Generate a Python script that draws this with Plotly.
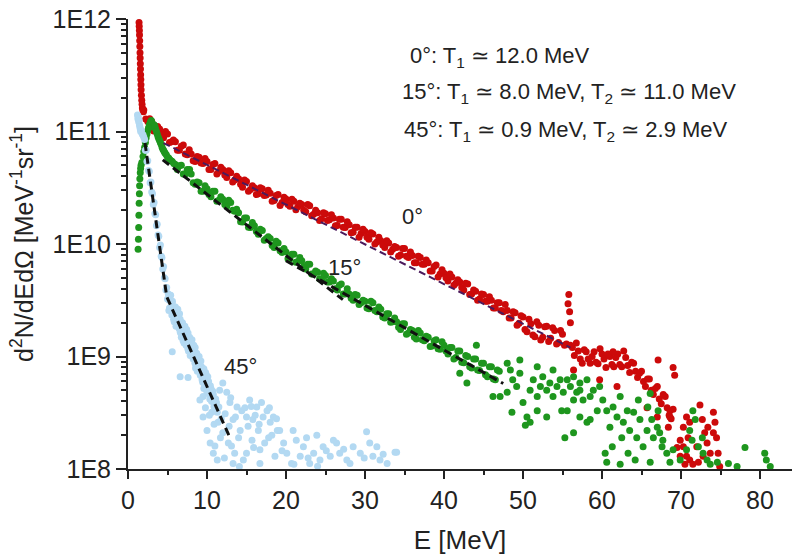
import plotly.graph_objects as go

# ---------------- data ----------------
# 0 degree spectrum (red)
red_E = [1.40, 1.42, 1.44, 1.46, 1.48, 1.50, 1.52, 1.54, 1.56, 1.58, 1.60, 1.62, 1.64, 1.66, 1.70, 1.74, 1.78, 1.82, 1.88, 1.95,
         2.0, 2.5, 3.0, 3.5, 4.0, 4.5, 5.0, 5.5, 6.0, 6.5, 7.0, 7.5, 8.0, 8.5, 9.0, 9.5, 10.0, 10.5, 11.0, 11.5,
         12.0, 12.5, 13.0, 13.5, 14.0, 14.5, 15.0, 15.5, 16.0, 16.5, 17.0, 17.5, 18.0, 18.5, 19.0, 19.5, 20.0, 20.5,
         21.0, 21.5, 22.0, 22.5, 23.0, 23.5, 24.0, 24.5, 25.0, 25.5, 26.0, 26.5, 27.0, 27.5, 28.0, 28.5, 29.0, 29.5,
         30.0, 30.5, 31.0, 31.5, 32.0, 32.5, 33.0, 33.5, 34.0, 34.5, 35.0, 35.5, 36.0, 36.5, 37.0, 37.5, 38.0, 38.5,
         39.0, 39.5, 40.0, 40.5, 41.0, 41.5, 42.0, 42.5, 43.0, 43.5, 44.0, 44.5, 45.0, 45.5, 46.0, 46.5, 47.0, 47.5,
         48.0, 48.5, 49.0, 49.5, 50.0, 50.5, 51.0, 51.5, 52.0, 52.5, 53.0, 53.5, 54.0, 54.5, 55.0, 55.5,
         2.25, 2.75, 3.25, 3.75, 4.25, 4.75, 5.25, 5.75, 6.25, 6.75, 7.25, 7.75, 8.25, 8.75, 9.25, 9.75, 10.25,
         10.75, 11.25, 11.75, 12.25, 12.75, 13.25, 13.75, 14.25, 14.75, 15.25, 15.75, 16.25, 16.75, 17.25, 17.75,
         18.25, 18.75, 19.25, 19.75, 20.25, 20.75, 21.25, 21.75, 22.25, 22.75, 23.25, 23.75, 24.25, 24.75, 25.25,
         25.75, 26.25, 26.75, 27.25, 27.75, 28.25, 28.75, 29.25, 29.75, 30.25, 30.75, 31.25, 31.75, 32.25, 32.75,
         33.25, 33.75, 34.25, 34.75, 35.25, 35.75, 36.25, 36.75, 37.25, 37.75, 38.25, 38.75, 39.25, 39.75, 40.25,
         40.75, 41.25, 41.75, 42.25, 42.75, 43.25, 43.75, 44.25, 44.75, 45.25, 45.75, 46.25, 46.75, 47.25, 47.75,
         48.25, 48.75, 49.25, 49.75, 50.25, 50.75, 51.25, 51.75, 52.25, 52.75, 53.25, 53.75, 54.25, 54.75, 55.25,
         55.7, 55.8, 55.9, 56.0,
         56.0, 56.5, 57.0, 57.5, 58.0, 58.5, 59.0, 59.5, 60.0, 60.5, 61.0, 61.5, 62.0, 62.5, 63.0, 63.5, 64.0, 64.5,
         65.0, 65.5, 66.0, 66.5, 67.0, 67.5, 68.0, 68.5, 69.0,
         56.25, 56.75, 57.25, 57.75, 58.25, 58.75, 59.25, 59.75, 60.25, 60.75, 61.25, 61.75, 62.25, 62.75, 63.25,
         63.75, 64.25, 64.75, 65.25, 65.75, 66.25, 66.75, 67.25, 67.75, 68.25, 68.75,
         56.4, 59.7, 61.9, 65.7, 67.0, 67.1, 69.0, 69.2, 61.4,
         68.6, 68.6, 68.4, 70.3, 69.9, 70.3, 70.7, 71.1, 69.9, 70.5, 71.5, 70.9, 71.1, 72.4, 72.7, 73.0, 73.3, 73.7,
         74.1, 74.3, 74.5, 74.7, 74.9, 72.0, 72.2, 73.4, 74.1, 70.7, 72.8, 69.5]
red_N = [9.3e11, 8.6e11, 7.9e11, 7.2e11, 6.4e11, 5.7e11, 5.0e11, 4.5e11, 4.0e11, 3.6e11, 3.2e11, 2.9e11, 2.6e11, 2.35e11,
         2.1e11, 1.9e11, 1.75e11, 1.62e11, 1.55e11, 1.5e11,
         1.55e11, 1.23e11, 1.23e11, 1.05e11, 1.05e11, 8.8e10, 9.5e10, 8.1e10, 8.1e10, 6.8e10, 7.6e10, 6.2e10, 6.3e10,
         5.4e10, 5.9e10, 5.2e10, 5.4e10, 4.6e10, 5.2e10, 4.4e10,
         4.6e10, 3.9e10, 4.3e10, 3.7e10, 3.8e10, 3.2e10, 3.6e10, 3.05e10, 3.16e10, 2.8e10, 3.1e10, 2.72e10, 2.82e10,
         2.43e10, 2.75e10, 2.34e10, 2.51e10, 2.16e10,
         2.4e10, 2.14e10, 2.24e10, 1.93e10, 2.19e10, 1.84e10, 1.9e10, 1.68e10, 1.86e10, 1.64e10, 1.7e10, 1.46e10,
         1.66e10, 1.4e10, 1.48e10, 1.27e10, 1.41e10, 1.24e10,
         1.29e10, 1.1e10, 1.23e10, 1.04e10, 1.07e10, 9.3e9, 1.02e10, 9.0e9, 9.3e9, 8.0e9, 9.1e9, 7.6e9, 7.9e9, 6.8e9,
         7.6e9, 6.6e9, 6.8e9, 5.75e9,
         6.5e9, 5.4e9, 5.5e9, 4.7e9, 5.1e9, 4.47e9, 4.6e9, 3.9e9, 4.4e9, 3.6e9, 3.8e9, 3.24e9, 3.55e9, 3.1e9, 3.16e9,
         2.7e9, 3.0e9, 2.5e9,
         2.57e9, 2.2e9, 2.45e9, 1.97e9, 2.24e9, 1.66e9, 1.95e9, 1.5e9, 1.9e9, 1.48e9, 1.86e9, 1.45e9, 1.7e9, 1.33e9,
         1.58e9, 1.29e9,
         1.29e11, 1.3e11, 1.01e11, 1.11e11, 9.5e10, 1.0e11, 8.0e10, 8.4e10, 6.8e10, 7.4e10, 6.3e10, 6.9e10, 5.5e10,
         6.0e10, 5.25e10, 5.75e10, 4.6e10,
         5.1e10, 4.2e10, 4.8e10, 4.1e10, 4.47e10, 3.55e10, 4.0e10, 3.4e10, 3.7e10, 2.95e10, 3.3e10, 2.75e10, 3.16e10,
         2.7e10, 3.0e10,
         2.4e10, 2.7e10, 2.2e10, 2.6e10, 2.24e10, 2.5e10, 2.02e10, 2.3e10, 2.0e10, 2.24e10, 1.78e10, 2.0e10, 1.62e10,
         1.9e10, 1.62e10,
         1.82e10, 1.45e10, 1.66e10, 1.41e10, 1.58e10, 1.26e10, 1.41e10, 1.15e10, 1.35e10, 1.15e10, 1.26e10, 1.0e10,
         1.15e10, 9.8e9, 1.07e10,
         8.5e9, 9.5e9, 7.8e9, 9.1e9, 7.8e9, 8.5e9, 6.8e9, 7.8e9, 6.6e9, 7.2e9, 5.75e9, 6.3e9, 5.1e9, 5.9e9, 5.0e9,
         5.4e9, 4.3e9, 4.8e9, 4.1e9, 4.47e9, 3.55e9, 3.9e9, 3.16e9, 3.6e9, 3.1e9, 3.4e9, 2.7e9, 3.0e9, 2.57e9, 2.9e9,
         2.2e9, 2.5e9, 1.9e9, 2.3e9, 1.74e9, 2.14e9, 1.55e9, 2.04e9, 1.4e9, 1.84e9, 1.36e9, 1.8e9, 1.29e9, 1.7e9,
         1.26e9,
         2.95e9, 3.55e9, 2.5e9, 2.0e9,
         1.26e9, 1.02e9, 1.12e9, 8.7e8, 1.1e9, 8.7e8, 1.1e9, 8.6e8, 1.05e9, 8.0e8, 1.0e9, 8.1e8, 1.05e9, 8.1e8, 9.8e8,
         7.2e8, 8.7e8, 6.5e8,
         7.4e8, 5.4e8, 6.3e8, 4.6e8, 5.4e8, 3.8e8, 4.4e8, 3.0e8, 3.4e8,
         1.2e9, 1.32e9, 9.5e8, 1.15e9, 9.5e8, 1.0e9, 8.9e8, 1.17e9, 9.5e8, 1.05e9, 8.5e8, 9.8e8, 8.5e8, 1.12e9, 8.3e8,
         8.9e8, 7.4e8, 7.1e8, 6.0e8, 6.3e8, 5.0e8, 5.2e8, 4.2e8, 4.6e8, 3.5e8, 2.8e8,
         7.6e8, 6.2e8, 5.4e8, 3.5e8, 2.9e8, 9.3e8, 8.0e8, 6.8e8, 1.1e9,
         3.3e8, 2.9e8, 2.35e8, 2.35e8, 1.8e8, 1.58e8, 1.3e8, 1.2e8, 1.3e8, 1.1e8, 1.1e8, 1.9e8, 2.6e8, 3.7e8, 2.75e8,
         2.1e8, 1.7e8, 1.38e8,
         3.2e8, 2.6e8, 1.9e8, 1.38e8, 1.05e8, 1.58e8, 1.15e8, 2.35e8, 2.1e8, 2.9e8, 1.3e8, 1.55e8]

# 15 degree spectrum (green)
green_E = [1.28, 1.32, 1.35, 1.38, 1.41, 1.44, 1.47, 1.50, 1.55, 1.60, 1.65, 1.75, 1.9, 2.1, 2.3, 2.5, 2.7, 2.85,
           3.0, 3.15, 3.3, 3.5, 3.7, 3.9, 4.1, 4.3, 4.5, 4.7, 5.0, 5.3, 5.6, 6.0,
           2.0, 2.2, 2.4, 2.6, 2.95, 3.4, 3.6, 3.8, 4.0, 4.2, 4.4, 4.6, 4.85, 5.15, 5.45, 5.8,
           6.5, 7.0, 7.5, 7.8, 8.0, 8.5, 9.0, 9.5, 10.0, 10.5, 11.0, 11.5, 12.0, 12.5, 13.0, 13.5, 14.0, 14.5,
           15.0, 15.5, 16.0, 16.5, 17.0, 17.5, 18.0, 18.5, 19.0, 19.5, 20.0, 20.5, 21.0, 21.5, 22.0, 22.5,
           23.0, 23.5, 24.0, 24.5, 25.0, 25.5, 26.0, 26.5, 27.0, 27.5, 28.0, 28.5, 29.0, 29.5, 30.0, 30.5,
           31.0, 31.5, 32.0, 32.5, 33.0, 33.5, 34.0, 34.5, 35.0, 35.5, 36.0, 36.5, 37.0, 37.5, 38.0, 38.5,
           39.0, 39.5, 40.0, 40.5, 41.0, 41.5, 42.0, 42.5, 43.0, 43.5, 44.0, 44.5, 45.0, 45.5, 46.0, 46.5, 47.0,
           6.25, 6.75, 7.25, 7.75, 8.25, 8.75, 9.25, 9.75, 10.25, 10.75, 11.25, 11.75, 12.25, 12.75, 13.25, 13.75,
           14.25, 14.75, 15.25, 15.75, 16.25, 16.75, 17.25, 17.75, 18.25, 18.75, 19.25, 19.75, 20.25, 20.75, 21.25,
           21.75, 22.25, 22.75, 23.25, 23.75, 24.25, 24.75, 25.25, 25.75, 26.25, 26.75, 27.25, 27.75, 28.25, 28.75,
           29.25, 29.75, 30.25, 30.75, 31.25, 31.75, 32.25, 32.75, 33.25, 33.75, 34.25, 34.75, 35.25, 35.75, 36.25,
           36.75, 37.25, 37.75, 38.25, 38.75, 39.25, 39.75, 40.25, 40.75, 41.25, 41.75, 42.25, 42.75, 43.25, 43.75,
           44.25, 44.75, 45.25, 45.75, 46.25, 46.75,
           42.0, 42.9, 44.1, 46.2,
           48.0, 48.4, 48.7, 49.2, 48.0, 49.6, 50.0, 50.5, 50.3, 50.9, 51.3, 51.8, 52.2, 52.5, 53.0, 53.4, 53.8,
           54.3, 54.7, 55.1, 55.3, 55.6, 56.0, 56.4, 56.8, 57.2, 57.6, 58.1, 58.5, 58.9, 57.2, 58.1, 59.4, 59.7,
           51.8, 53.8, 56.4, 50.9, 53.0, 54.9, 48.6, 47.1, 49.6, 51.8, 55.6, 57.2,
           60.1, 60.6, 60.4, 60.6, 61.0, 61.3, 61.4, 61.9, 62.3, 62.5, 62.7, 63.2, 63.3, 63.5, 64.0, 64.2, 64.4,
           64.6, 64.8, 65.2, 65.7, 65.8, 66.1, 66.3, 66.5, 67.0, 67.1, 67.3, 67.6, 67.7, 68.2, 68.6, 66.1, 62.3,
           58.5, 56.4,
           69.0, 69.9, 71.1, 71.4, 71.5, 71.8, 72.2, 72.7, 72.8, 73.3, 73.7, 74.6, 76.0, 77.1, 78.1, 80.6, 80.8,
           81.3, 70.7]
green_N = [9.0e9, 1.1e10, 1.4e10, 1.8e10, 2.3e10, 2.8e10, 3.3e10, 3.8e10, 4.3e10, 4.7e10, 5.0e10, 5.3e10, 6.0e10,
           7.2e10, 8.8e10, 1.02e11, 1.15e11, 1.22e11,
           1.2e11, 1.1e11, 1.15e11, 1.05e11, 9.5e10, 8.6e10, 8.0e10, 7.3e10, 6.8e10, 6.4e10, 5.9e10, 5.6e10, 5.4e10,
           5.1e10,
           6.6e10, 8.0e10, 9.5e10, 1.08e11, 1.25e11, 1.12e11, 1.0e11, 9.0e10, 8.3e10, 7.7e10, 7.0e10, 6.6e10, 6.2e10,
           5.8e10, 5.5e10, 5.2e10,
           4.95e10, 4.2e10, 4.6e10, 4.6e10, 4.2e10, 3.4e10, 3.5e10, 2.95e10, 3.1e10, 2.63e10, 2.95e10, 2.45e10, 2.5e10,
           2.16e10, 2.34e10, 1.95e10, 1.9e10, 1.57e10,
           1.7e10, 1.4e10, 1.45e10, 1.22e10, 1.32e10, 1.12e10, 1.12e10, 9.3e9, 1.02e10, 8.4e9, 8.5e9, 7.4e9, 8.1e9,
           7.0e9, 7.1e9, 6.0e9,
           6.6e9, 5.4e9, 5.6e9, 4.8e9, 5.25e9, 4.6e9, 4.7e9, 3.9e9, 4.4e9, 3.6e9, 3.6e9, 3.16e9, 3.5e9, 3.0e9, 3.1e9,
           2.66e9,
           3.0e9, 2.5e9, 2.63e9, 2.2e9, 2.4e9, 2.04e9, 2.04e9, 1.74e9, 1.95e9, 1.62e9, 1.7e9, 1.43e9, 1.62e9, 1.38e9,
           1.48e9, 1.24e9,
           1.41e9, 1.16e9, 1.26e9, 1.05e9, 1.2e9, 9.8e8, 1.12e9, 8.8e8, 1.0e9, 7.9e8, 9.5e8, 7.5e8, 8.7e8, 6.6e8,
           8.1e8, 6.2e8, 7.4e8,
           4.6e10, 5.0e10, 4.2e10, 4.4e10, 3.5e10, 3.55e10, 2.95e10, 3.3e10, 2.75e10, 2.95e10, 2.4e10, 2.63e10,
           2.24e10, 2.45e10, 2.0e10, 2.04e10,
           1.58e10, 1.7e10, 1.41e10, 1.55e10, 1.29e10, 1.35e10, 1.08e10, 1.16e10, 9.7e9, 1.06e10, 8.7e9, 9.1e9, 7.4e9,
           8.1e9, 6.9e9,
           7.6e9, 6.3e9, 6.6e9, 5.4e9, 5.75e9, 4.9e9, 5.5e9, 4.6e9, 4.9e9, 4.0e9, 4.3e9, 3.6e9, 4.0e9, 3.3e9, 3.55e9,
           2.9e9, 3.16e9, 2.7e9, 3.1e9, 2.57e9, 2.75e9, 2.24e9, 2.4e9, 2.02e9, 2.2e9, 1.82e9, 1.95e9, 1.58e9, 1.74e9,
           1.48e9,
           1.7e9, 1.41e9, 1.51e9, 1.23e9, 1.38e9, 1.17e9, 1.35e9, 1.12e9, 1.2e9, 9.5e8, 1.12e9, 8.9e8, 1.02e9, 8.1e8,
           9.5e8,
           7.6e8, 8.7e8, 6.9e8, 8.1e8, 6.3e8, 7.6e8,
           7.1e8, 5.8e8, 1.26e9, 4.4e8,
           8.7e8, 7.6e8, 6.2e8, 5.4e8, 4.8e8, 7.1e8, 3.9e8, 2.9e8, 2.45e8, 5.0e8, 6.2e8, 4.4e8, 5.4e8, 6.6e8, 5.0e8,
           5.8e8, 4.4e8,
           5.4e8, 6.2e8, 4.8e8, 1.9e8, 3.3e8, 5.4e8, 4.1e8, 4.8e8, 5.8e8, 4.1e8, 6.2e8, 4.4e8, 5.0e8, 2.9e8, 2.6e8,
           3.3e8, 5.4e8,
           3.3e8, 7.6e8, 6.6e8, 2.6e8, 2.9e8, 3.3e8, 3.2e8, 4.4e8, 9.3e8, 8.1e8, 6.2e8, 5.0e8,
           4.1e8, 3.3e8, 1.38e8, 1.15e8, 2.35e8, 1.58e8, 3.55e8, 2.9e8, 4.4e8, 1.9e8, 2.6e8, 3.3e8, 1.38e8, 2.2e8,
           3.2e8, 1.2e8, 1.9e8,
           4.1e8, 2.75e8, 1.58e8, 2.2e8, 3.55e8, 4.7e8, 2.75e8, 1.9e8, 2.35e8, 3.3e8, 2.1e8, 1.58e8, 1.8e8, 1.38e8,
           1.15e8, 1.15e8, 1.1e8,
           2.75e8, 2.1e8,
           1.48e8, 1.2e8, 2.2e8, 1.8e8, 3.3e8, 2.75e8, 1.58e8, 1.9e8, 1.38e8, 1.2e8, 1.1e8, 1.15e8, 1.12e8, 1.05e8,
           1.55e8, 1.38e8, 1.2e8,
           1.05e8, 1.48e8]

# 45 degree spectrum (light blue)
blue_E = [1.20, 1.25, 1.30, 1.35, 1.40, 1.45, 1.50, 1.55, 1.60, 1.70, 1.80, 1.90,
          2.0, 2.1, 2.2, 2.3, 2.4, 2.5, 2.6, 2.7, 2.8, 2.9, 3.0, 3.1, 3.2, 3.3, 3.4, 3.5, 3.6, 3.7, 3.8, 3.9,
          4.0, 4.1, 4.2, 4.3, 4.4, 4.5, 4.6, 4.7, 4.8, 4.9, 5.0,
          5.10, 5.25, 5.40, 5.55, 5.70, 5.85, 6.00, 6.15, 6.30, 6.45, 6.60, 6.75, 6.90, 7.05, 7.20, 7.35, 7.50,
          7.65, 7.80, 7.95, 8.10, 8.25, 8.40, 8.55, 8.70, 8.85, 9.00, 9.15, 9.30, 9.45, 9.60, 9.75, 9.90, 10.05,
          10.20, 10.35, 10.50, 10.65, 10.80, 10.95,
          5.175, 5.325, 5.475, 5.625, 5.775, 5.925, 6.075, 6.225, 6.375, 6.525, 6.675, 6.825, 6.975, 7.125, 7.275,
          7.425, 7.575, 7.725, 7.875, 8.025, 8.175, 8.325, 8.475, 8.625, 8.775, 8.925, 9.075, 9.225, 9.375, 9.525,
          9.675, 9.825, 9.975, 10.125, 10.275, 10.425, 10.575, 10.725, 10.875, 11.1, 11.3, 11.5, 11.8,
          5.2, 5.6, 6.1, 6.6, 7.1, 7.6, 8.0, 8.5, 9.1, 9.6, 10.1,
          5.6, 6.6, 7.6,
          9.1, 9.5, 10.0, 10.4, 10.8, 11.3, 10.6, 11.4, 12.0, 11.6, 12.0, 12.5, 12.9, 12.7, 13.3, 13.5, 13.8, 14.2,
          14.4, 14.6, 15.0, 15.4, 15.7, 15.8, 16.3, 16.5, 16.7, 16.9, 17.1, 17.6, 17.8, 18.0, 18.4, 18.6, 18.9,
          15.0, 13.3, 16.7, 10.0, 9.5, 11.2,
          9.8, 10.3, 10.9, 11.7, 12.3, 12.8, 13.1, 13.6, 14.0, 14.8, 15.2, 15.9, 16.1, 16.6, 17.3, 17.9, 18.2, 18.8,
          19.2, 19.5, 12.2, 14.1, 11.0, 13.0, 15.6,
          19.7, 20.1, 20.9, 21.3, 21.8, 22.2, 22.6, 23.5, 23.9, 24.3, 24.7, 25.6, 26.4, 26.8, 27.7, 28.5, 29.4,
          30.2, 30.6, 31.0, 31.5, 31.9, 32.8, 33.8, 28.1, 23.0, 20.7, 34.0,
          21.0, 22.8, 25.1, 26.0, 27.3, 29.9, 32.3, 24.0]
blue_N = [1.4e11, 1.3e11, 1.35e11, 1.22e11, 1.25e11, 1.15e11, 1.1e11, 1.05e11, 1.0e11, 1.02e11, 9.5e10, 9.3e10,
          8.9e10, 8.5e10, 6.8e10, 6.8e10, 5.4e10, 5.5e10, 4.5e10, 4.4e10, 3.5e10, 3.55e10, 2.9e10, 2.8e10, 2.24e10,
          2.34e10, 1.86e10, 1.82e10, 1.45e10, 1.5e10, 1.2e10, 1.17e10,
          9.3e9, 9.8e9, 7.8e9, 7.6e9, 6.0e9, 6.3e9, 5.0e9, 4.9e9, 3.9e9, 4.1e9, 3.24e9,
          3.6e9, 2.7e9, 3.5e9, 2.34e9, 2.75e9, 2.04e9, 2.75e9, 2.04e9, 2.63e9, 1.78e9, 2.14e9, 1.48e9, 2.0e9, 1.51e9,
          1.86e9, 1.26e9, 1.55e9,
          1.12e9, 1.48e9, 1.07e9, 1.41e9, 9.5e8, 1.15e9, 7.9e8, 1.07e9, 7.9e8, 1.0e9, 6.8e8, 8.1e8, 5.9e8, 7.8e8,
          5.6e8, 6.9e8, 4.8e8,
          6.0e8, 4.2e8, 5.2e8, 4.0e8, 4.6e8, 3.4e8,
          2.57e9, 3.5e9, 2.63e9, 3.1e9, 2.14e9, 2.63e9, 1.86e9, 2.45e9, 1.9e9, 2.4e9, 1.62e9, 1.95e9, 1.38e9, 1.82e9,
          1.35e9,
          1.74e9, 1.17e9, 1.41e9, 1.02e9, 1.35e9, 1.0e9, 1.26e9, 8.7e8, 1.05e9, 7.4e8, 9.5e8, 7.4e8, 9.1e8, 6.2e8,
          7.6e8,
          5.75e8, 7.2e8, 4.9e8, 6.0e8, 4.6e8, 5.5e8, 4.0e8, 4.9e8, 3.6e8, 4.2e8, 3.2e8, 3.55e8, 2.8e8,
          3.16e9, 3.0e9, 2.4e9, 1.66e9, 1.32e9, 1.62e9, 1.32e9, 1.2e9, 8.9e8, 5.2e8, 6.6e8,
          1.1e9, 6.6e8, 6.5e8,
          4.1e8, 2.9e8, 2.2e8, 1.7e8, 1.38e8, 1.2e8, 3.2e8, 2.6e8, 2.1e8, 5.0e8, 5.8e8, 4.8e8, 3.9e8, 1.7e8, 2.75e8,
          1.38e8, 3.55e8, 2.2e8,
          3.3e8, 1.2e8, 2.9e8, 4.1e8, 1.8e8, 2.75e8, 3.55e8, 2.2e8, 1.48e8, 3.9e8, 2.9e8, 3.3e8, 1.9e8, 2.6e8, 2.9e8,
          1.3e8, 2.2e8,
          1.38e8, 1.12e8, 1.12e8, 5.4e8, 4.4e8, 3.9e8,
          3.5e8, 3.0e8, 2.5e8, 1.9e8, 3.1e8, 2.4e8, 1.6e8, 2.9e8, 1.9e8, 3.5e8, 2.4e8, 1.55e8, 3.0e8, 2.5e8, 1.7e8,
          3.5e8, 2.0e8, 2.8e8,
          2.2e8, 1.45e8, 1.25e8, 1.05e8, 1.6e8, 4.3e8, 3.6e8,
          1.7e8, 1.38e8, 2.2e8, 1.8e8, 1.3e8, 1.58e8, 1.9e8, 1.38e8, 2.0e8, 1.2e8, 1.58e8, 1.3e8, 1.7e8, 1.38e8,
          1.2e8, 1.58e8, 1.38e8,
          2.14e8, 1.7e8, 1.3e8, 1.58e8, 1.2e8, 1.12e8, 1.41e8, 1.12e8, 1.12e8, 1.12e8, 1.41e8,
          1.1e8, 1.25e8, 1.45e8, 1.8e8, 1.5e8, 1.25e8, 1.35e8, 1.06e8]

# exponential fits (end points of each fitted segment)
fit0_E = [4.5, 56.0]
fit0_N = [7.9e10, 1.2e9]
fit15a_E = [4.4, 27.2]
fit15a_N = [5.6e10, 3.2e9]
fit15b_E = [20.0, 47.5]
fit15b_N = [7.1e9, 5.75e8]
fit45_E = [2.15, 4.9, 12.9]
fit45_N = [7.9e10, 3.4e9, 1.9e8]

x_ticks = [0, 10, 20, 30, 40, 50, 60, 70, 80]
x_minor = [5, 15, 25, 35, 45, 55, 65, 75]
y_ticks = [1e8, 1e9, 1e10, 1e11, 1e12]
y_labels = ["1E8", "1E9", "1E10", "1E11", "1E12"]
y_minor = [m * 10 ** e for e in (8, 9, 10, 11) for m in (2, 3, 4, 5, 6, 7, 8, 9)]

# ---------------- figure ----------------
RED = "#cc0a0a"
GREEN = "#1e961e"
BLUE = "#b3d9f2"
INK = "#222222"
FONT = "Arial, 'Liberation Sans', sans-serif"
MS = 7

fig = go.Figure()
fig.add_trace(go.Scatter(x=red_E, y=red_N, mode="markers", name="0°",
                         marker=dict(size=MS, color=RED, line=dict(width=0))))
fig.add_trace(go.Scatter(x=green_E, y=green_N, mode="markers", name="15°",
                         marker=dict(size=MS, color=GREEN, line=dict(width=0))))
fig.add_trace(go.Scatter(x=blue_E, y=blue_N, mode="markers", name="45°",
                         marker=dict(size=MS, color=BLUE, line=dict(width=0))))
fig.add_trace(go.Scatter(x=fit0_E, y=fit0_N, mode="lines",
                         line=dict(color="#4b1a5c", width=2, dash="7px,4px")))
fig.add_trace(go.Scatter(x=fit15a_E, y=fit15a_N, mode="lines",
                         line=dict(color="#111111", width=3, dash="8px,5px")))
fig.add_trace(go.Scatter(x=fit15b_E, y=fit15b_N, mode="lines",
                         line=dict(color="#111111", width=3, dash="8px,5px")))
fig.add_trace(go.Scatter(x=fit45_E, y=fit45_N, mode="lines",
                         line=dict(color="#111111", width=3, dash="8px,5px")))

ann_font = dict(family=FONT, size=22, color=INK)
annotations = [
    dict(text="0°: T<sub>1</sub> ≃ 12.0 MeV", x=0.4217, y=0.9156, xanchor="left"),
    dict(text="15°: T<sub>1</sub> ≃ 8.0 MeV, T<sub>2</sub> ≃ 11.0 MeV", x=0.4096, y=0.8356, xanchor="left"),
    dict(text="45°: T<sub>1</sub> ≃ 0.9 MeV, T<sub>2</sub> ≃ 2.9 MeV", x=0.4127, y=0.7511, xanchor="left"),
    dict(text="0°", x=0.4292, y=0.5622, xanchor="center"),
    dict(text="15°", x=0.3268, y=0.4467, xanchor="center"),
    dict(text="45°", x=0.1687, y=0.2267, xanchor="center"),
]
for a in annotations:
    fig.add_annotation(xref="paper", yref="paper", yanchor="middle", showarrow=False,
                       font=ann_font, **a)

fig.update_layout(
    width=792, height=555,
    margin=dict(l=128, r=0, t=19, b=86),
    plot_bgcolor="white", paper_bgcolor="white",
    showlegend=False,
    font=dict(family=FONT, size=22, color=INK),
)
fig.update_xaxes(
    range=[0, 84.05], tickmode="array", tickvals=x_ticks,
    ticks="outside", ticklen=8, tickwidth=2, tickcolor=INK,
    showline=True, linecolor=INK, linewidth=2, mirror=False,
    showgrid=False, zeroline=False,
    minor=dict(tickmode="array", tickvals=x_minor, ticks="outside", ticklen=4, tickwidth=2, tickcolor=INK,
               showgrid=False),
    tickfont=dict(size=25),
    title=dict(text="E [MeV]", font=dict(size=26), standoff=23),
)
fig.update_yaxes(
    type="log", range=[8, 12], tickmode="array", tickvals=y_ticks, ticktext=y_labels,
    ticks="outside", ticklen=10, tickwidth=2, tickcolor=INK,
    showline=True, linecolor=INK, linewidth=2, mirror=False,
    showgrid=False, zeroline=False,
    minor=dict(tickmode="array", tickvals=y_minor, ticks="outside", ticklen=5, tickwidth=1.5, tickcolor=INK,
               showgrid=False),
    tickfont=dict(size=25),
    title=dict(text="d<sup>2</sup>N/dEdΩ [MeV<sup>-1</sup>sr<sup>-1</sup>]", font=dict(size=25), standoff=12),
)

fig.write_html("out.html")
